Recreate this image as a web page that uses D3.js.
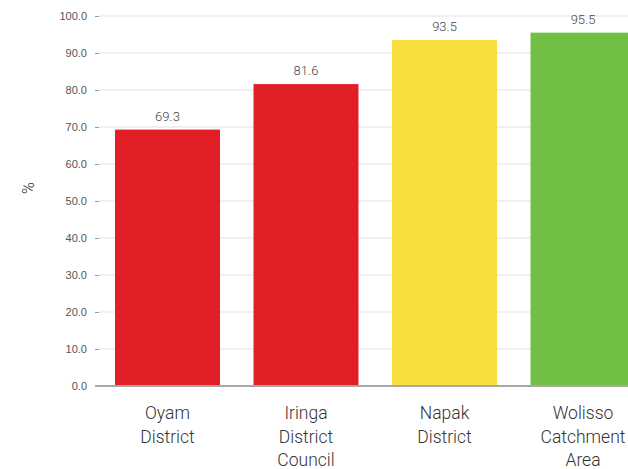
<!DOCTYPE html>
<html>
<head>
<meta charset="utf-8">
<script src="https://cdn.jsdelivr.net/npm/d3@7"></script>
<style>
  html, body { margin: 0; padding: 0; background: #fff; }
  svg { display: block; font-family: "Roboto", "DejaVu Sans", sans-serif; }
</style>
</head>
<body>
<svg id="chart" width="628" height="469"></svg>
<script>
// Share of households (%) by site
const categories = [
  ["Oyam", "District"],
  ["Iringa", "District", "Council"],
  ["Napak", "District"],
  ["Wolisso", "Catchment", "Area"]
];
const values = [69.3, 81.6, 93.5, 95.5];
const barColors = ["#e11f27", "#e11f27", "#f8de3e", "#71bf45"];
const yTicks = [0, 10, 20, 30, 40, 50, 60, 70, 80, 90, 100];
const yTitle = "%";

const svg = d3.select("#chart");
const keys = categories.map(c => c.join(" "));

const x = d3.scaleBand()
  .domain(keys)
  .range([99, 651.5])
  .paddingInner(0.242)
  .paddingOuter(0.1155);

const y = d3.scaleLinear().domain([0, 100]).range([386, 16]);

// gridlines
svg.append("g")
  .selectAll("line")
  .data(yTicks.filter(d => d > 0))
  .join("line")
  .attr("x1", 99).attr("x2", 628)
  .attr("y1", d => y(d)).attr("y2", d => y(d))
  .attr("stroke", "#e3e3e3").attr("stroke-width", 1.2);

// y axis
const yAxis = svg.append("g")
  .attr("transform", "translate(99,0)")
  .call(d3.axisLeft(y).tickValues(yTicks).tickFormat(d3.format(".1f")).tickSize(4).tickPadding(8));
yAxis.select(".domain").remove();
yAxis.selectAll(".tick line").attr("stroke", "#999");
yAxis.selectAll(".tick text")
  .attr("fill", "#555")
  .style("font-size", "11px");

// bars
svg.append("g")
  .selectAll("rect")
  .data(values)
  .join("rect")
  .attr("x", (d, i) => x(keys[i]))
  .attr("width", x.bandwidth())
  .attr("y", d => y(d))
  .attr("height", d => y(0) - y(d))
  .attr("fill", (d, i) => barColors[i]);

// baseline
svg.append("line")
  .attr("x1", 95).attr("x2", 628)
  .attr("y1", y(0)).attr("y2", y(0))
  .attr("stroke", "#a8a8a8").attr("stroke-width", 2);

// value labels
svg.append("g")
  .selectAll("text")
  .data(values)
  .join("text")
  .attr("x", (d, i) => x(keys[i]) + x.bandwidth() / 2)
  .attr("y", d => y(d) - 9)
  .attr("text-anchor", "middle")
  .attr("fill", "#444")
  .style("font-size", "13px")
  .style("font-weight", 300)
  .text(d => d.toFixed(1));

// category labels
const cat = svg.append("g")
  .selectAll("text")
  .data(categories)
  .join("text")
  .attr("x", (d, i) => x(keys[i]) + x.bandwidth() / 2)
  .attr("y", 419)
  .attr("text-anchor", "middle")
  .attr("fill", "#333")
  .style("font-size", "17.5px")
  .style("font-weight", 300);
cat.selectAll("tspan")
  .data((d, i) => d.map(t => ({ t, cx: x(keys[i]) + x.bandwidth() / 2 })))
  .join("tspan")
  .attr("x", d => d.cx)
  .attr("dy", (d, j) => j === 0 ? 0 : 23.5)
  .text(d => d.t);

// y axis title
svg.append("text")
  .attr("transform", "translate(34,188) rotate(-90)")
  .attr("text-anchor", "middle")
  .attr("fill", "#333")
  .style("font-size", "16px")
  .style("font-weight", 300)
  .text(yTitle);
</script>
</body>
</html>
